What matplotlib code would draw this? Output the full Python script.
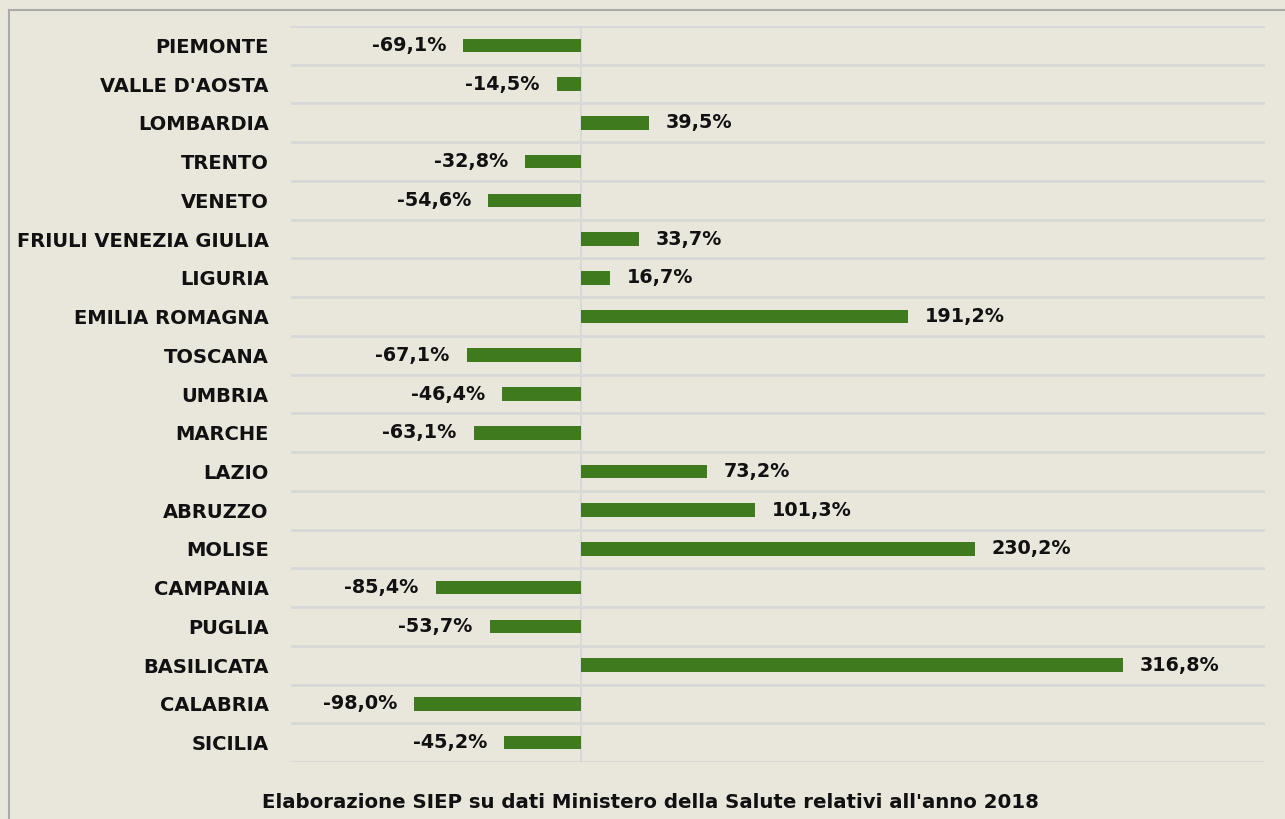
import numpy as np
import matplotlib
matplotlib.use("Agg")
from matplotlib import pyplot as plt
from matplotlib.lines import Line2D

# data
regions = ["PIEMONTE", "VALLE D'AOSTA", "LOMBARDIA", "TRENTO", "VENETO",
           "FRIULI VENEZIA GIULIA", "LIGURIA", "EMILIA ROMAGNA", "TOSCANA",
           "UMBRIA", "MARCHE", "LAZIO", "ABRUZZO", "MOLISE", "CAMPANIA",
           "PUGLIA", "BASILICATA", "CALABRIA", "SICILIA"]
values = [-69.1, -14.5, 39.5, -32.8, -54.6, 33.7, 16.7, 191.2, -67.1,
          -46.4, -63.1, 73.2, 101.3, 230.2, -85.4, -53.7, 316.8, -98.0, -45.2]
footer = "Elaborazione SIEP su dati Ministero della Salute relativi all'anno 2018"

bg = "#E9E6DC"
bar_col = "#3F7A1E"
grid_col = "#D8D8D8"

plt.rcParams['font.family'] = ['DejaVu Sans']

fig = plt.figure(figsize=(12.85, 8.19), dpi=100, facecolor=bg)
ax = fig.add_axes([291/1285, 1-762/819, (1265-291)/1285, (762-26)/819])
ax.set_facecolor(bg)

y = np.arange(len(regions))
ax.barh(y, values, height=0.35, color=bar_col, zorder=3)

ax.set_xlim(-170, 400)
ax.set_ylim(len(regions)-0.5, -0.5)

# row separators
ax.set_yticks(np.arange(len(regions)+1)-0.5, minor=True)
ax.grid(axis='y', which='minor', color=grid_col, linewidth=2)
ax.axvline(0, color=grid_col, linewidth=1.5, zorder=2)

ax.set_yticks(y)
ax.set_yticklabels(regions, fontsize=14, fontweight='bold', color='#111111')
ax.tick_params(axis='y', which='both', length=0, pad=16)
ax.set_xticks([])
for s in ax.spines.values():
    s.set_visible(False)

# value labels
for yi, v in zip(y, values):
    txt = f"{v:.1f}%".replace('.', ',')
    if v < 0:
        ax.text(v - 10, yi, txt, ha='right', va='center', fontsize=13.8,
                fontweight='bold', color='#111111')
    else:
        ax.text(v + 10, yi, txt, ha='left', va='center', fontsize=13.8,
                fontweight='bold', color='#111111')

fig.text(650/1285, 1-803/819, footer, ha='center', va='center', fontsize=14.2,
         fontweight='bold', color='#111111')

# outer frame lines
fig.add_artist(Line2D([9/1285, 1], [1-10/819, 1-10/819], color='#AAAAAA', linewidth=1.5))
fig.add_artist(Line2D([9/1285, 9/1285], [0, 1-10/819], color='#AAAAAA', linewidth=1.5))

plt.savefig("out.png", dpi=100, facecolor=bg)
